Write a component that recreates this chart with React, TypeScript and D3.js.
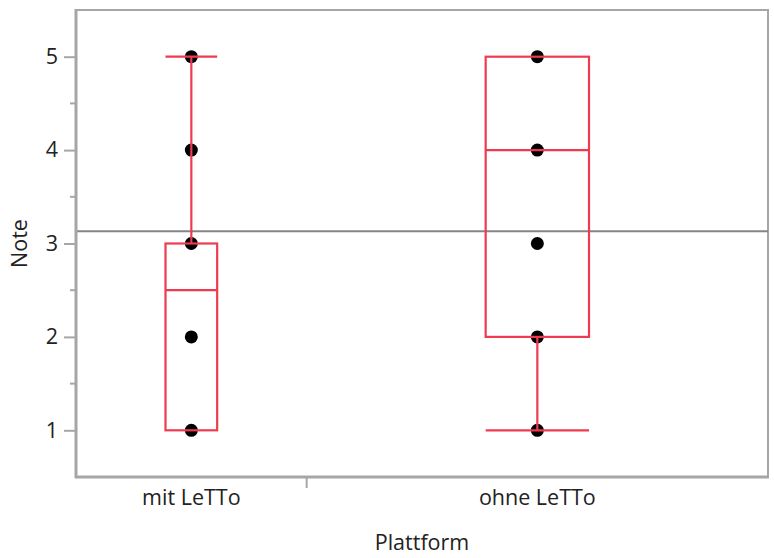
import React, { useEffect, useRef } from 'react';
import * as d3 from 'd3';

// data
const groups = ['mit LeTTo', 'ohne LeTTo'];
const groupShare = [1, 2]; // JMP sizes the x bands by group size
const mitNotes = [1, 2, 3, 4, 5];
const ohneNotes = [1, 2, 3, 4, 5];
const boxStats = [
  { min: 1, q1: 1, median: 2.5, q3: 3, max: 5 },
  { min: 1, q1: 2, median: 4, q3: 5, max: 5 },
];
const grandMean = 3.13;
const yTicks = [1, 2, 3, 4, 5];
const yMinor = [1.5, 2.5, 3.5, 4.5];

const W = 774, H = 558;
const left = 76, right = 768, top = 10, bottom = 477;
const red = '#ef3b50';
const axisGray = '#a6a6a6';
const font = '"Open Sans", "Noto Sans", sans-serif';
const fs = 21.5;

function drawChart(node: SVGSVGElement) {
  const svg = d3.select(node);
  svg.selectAll('*').remove();

  const y = d3.scaleLinear().domain([0.5, 5.5]).range([bottom, top]);

  // x bands proportional to group share
  const total = d3.sum(groupShare);
  const cum = d3.cumsum(groupShare);
  const x = d3.scaleLinear().domain([0, total]).range([left, right]);
  const bands = groups.map((g, i) => {
    const x0 = x(cum[i] - groupShare[i]);
    const x1 = x(cum[i]);
    return { name: g, x0, x1, cx: (x0 + x1) / 2, half: (x1 - x0) * 0.112 };
  });
  const points = [mitNotes, ohneNotes];

  // frame top/right
  svg.append('path')
    .attr('d', `M${left},${top}H${right}V${bottom}`)
    .attr('fill', 'none')
    .attr('stroke', axisGray)
    .attr('stroke-width', 2);

  // y axis
  const yAxis = svg.append('g').attr('transform', `translate(${left},0)`)
    .call(d3.axisLeft(y).tickValues(yTicks).tickFormat(d3.format('d')).tickSize(12).tickPadding(6));
  yAxis.select('.domain').remove();
  yAxis.selectAll('line').attr('stroke', axisGray).attr('stroke-width', 2);
  yAxis.selectAll('text').attr('font-family', font).attr('font-size', fs).attr('fill', '#222');
  svg.append('g').selectAll('line').data(yMinor).join('line')
    .attr('x1', left - 6).attr('x2', left)
    .attr('y1', d => y(d)).attr('y2', d => y(d))
    .attr('stroke', axisGray).attr('stroke-width', 2);

  // mean line
  svg.append('line')
    .attr('x1', left).attr('x2', right)
    .attr('y1', y(grandMean)).attr('y2', y(grandMean))
    .attr('stroke', '#858585').attr('stroke-width', 2);

  // points (boxes are drawn over them)
  points.forEach((vals, i) => {
    svg.append('g').selectAll('circle').data(vals).join('circle')
      .attr('cx', bands[i].cx)
      .attr('cy', d => y(d))
      .attr('r', 6.5)
      .attr('fill', '#000');
  });

  // boxes
  const bx = svg.append('g').attr('fill', 'none').attr('stroke', red).attr('stroke-width', 2.2);
  boxStats.forEach((s, i) => {
    const b = bands[i];
    bx.append('rect')
      .attr('x', b.cx - b.half).attr('y', y(s.q3))
      .attr('width', b.half * 2).attr('height', y(s.q1) - y(s.q3));
    bx.append('line')
      .attr('x1', b.cx - b.half).attr('x2', b.cx + b.half)
      .attr('y1', y(s.median)).attr('y2', y(s.median));
    if (s.max > s.q3) {
      bx.append('line').attr('x1', b.cx).attr('x2', b.cx).attr('y1', y(s.q3)).attr('y2', y(s.max));
      bx.append('line').attr('x1', b.cx - b.half).attr('x2', b.cx + b.half).attr('y1', y(s.max)).attr('y2', y(s.max));
    }
    if (s.min < s.q1) {
      bx.append('line').attr('x1', b.cx).attr('x2', b.cx).attr('y1', y(s.q1)).attr('y2', y(s.min));
      bx.append('line').attr('x1', b.cx - b.half).attr('x2', b.cx + b.half).attr('y1', y(s.min)).attr('y2', y(s.min));
    }
  });

  // left & bottom axis lines
  svg.append('line').attr('x1', left).attr('x2', left).attr('y1', top - 1).attr('y2', bottom + 1)
    .attr('stroke', axisGray).attr('stroke-width', 3);
  svg.append('line').attr('x1', left - 1).attr('x2', right + 1).attr('y1', bottom).attr('y2', bottom)
    .attr('stroke', axisGray).attr('stroke-width', 3);

  // x separators and labels
  svg.append('g').selectAll('line').data(bands.slice(0, -1)).join('line')
    .attr('x1', d => d.x1).attr('x2', d => d.x1)
    .attr('y1', bottom).attr('y2', bottom + 11)
    .attr('stroke', axisGray).attr('stroke-width', 2);
  svg.append('g').selectAll('text').data(bands).join('text')
    .attr('x', d => d.cx).attr('y', bottom + 28)
    .attr('text-anchor', 'middle')
    .attr('font-family', font).attr('font-size', fs).attr('fill', '#222')
    .text(d => d.name);

  // axis titles
  svg.append('text')
    .attr('transform', `translate(27,${(top + bottom) / 2}) rotate(-90)`)
    .attr('text-anchor', 'middle')
    .attr('font-family', font).attr('font-size', fs).attr('fill', '#222')
    .text('Note');
  svg.append('text')
    .attr('x', (left + right) / 2).attr('y', 550)
    .attr('text-anchor', 'middle')
    .attr('font-family', font).attr('font-size', fs).attr('fill', '#222')
    .text('Plattform');
}

export default function App() {
  const ref = useRef<SVGSVGElement>(null);
  useEffect(() => {
    if (ref.current) drawChart(ref.current);
  }, []);
  return (
    <svg ref={ref} width={W} height={H}
      style={{ position: 'absolute', left: 0, top: 0, background: '#fff' }} />
  );
}
